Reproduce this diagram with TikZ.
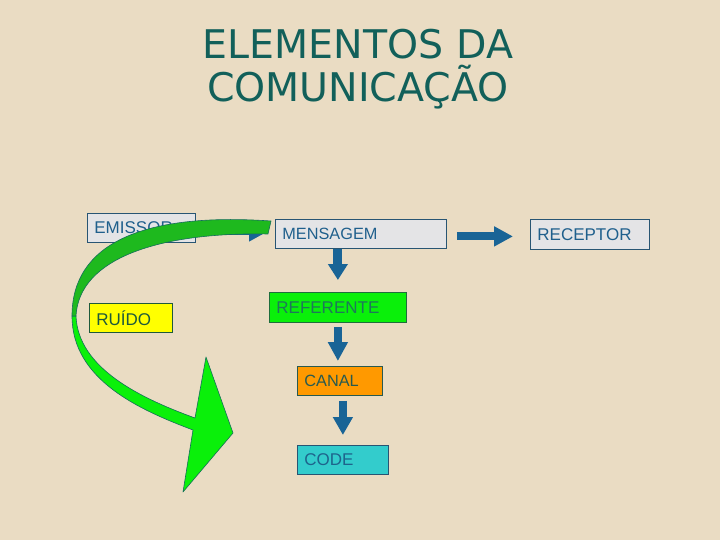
\documentclass[tikz,border=0pt]{standalone}
\usepackage{fontspec}
\setmainfont{Liberation Sans}
\newfontfamily\titlefont{DejaVu Sans}
\usetikzlibrary{arrows.meta}
\definecolor{bg}{RGB}{234,220,195}
\definecolor{titlecol}{RGB}{18,96,90}
\definecolor{ablue}{RGB}{25,100,150}
\definecolor{grayfill}{RGB}{228,228,230}
\definecolor{bluetext}{RGB}{31,95,140}
\definecolor{blueborder}{RGB}{40,85,115}
\definecolor{reffill}{RGB}{10,240,10}
\definecolor{reftext}{RGB}{30,120,90}
\definecolor{refborder}{RGB}{30,110,60}
\definecolor{canalfill}{RGB}{255,153,0}
\definecolor{canaltext}{RGB}{40,90,80}
\definecolor{codefill}{RGB}{51,204,204}
\definecolor{codetext}{RGB}{30,100,140}
\definecolor{ruidofill}{RGB}{255,255,0}
\definecolor{ruidotext}{RGB}{30,90,60}
\definecolor{gdark}{RGB}{30,185,30}
\definecolor{gbright}{RGB}{10,240,10}
\definecolor{gedge}{RGB}{20,110,90}
\begin{document}
\begin{tikzpicture}[x=1pt,y=-1pt,
  titletext/.style={font=\titlefont\fontsize{39.5}{45}\selectfont, text=titlecol, inner sep=0pt},
  box/.style={draw, line width=0.8pt, rectangle, anchor=north west, inner xsep=7pt, inner ysep=0pt, align=left, font=\fontsize{17}{20}\selectfont},
  barrow/.style={draw=ablue, line width=8pt, -{Triangle[length=19pt,width=19pt]}},
  garrow/.style={draw=gedge, line width=0.6pt, line join=round}
]
\fill[bg] (0,0) rectangle (720,540);
\useasboundingbox (0,0) rectangle (720,540);

\node[titletext, anchor=base] (t1) at (358,59) {ELEMENTOS DA};
\node[titletext, anchor=base] (t2) at (358,102) {COMUNICAÇÃO};

\node[box, fill=grayfill, draw=blueborder, text=bluetext, text width=94pt, minimum height=29pt] (em) at (87,213) {EMISSOR};
\node[box, fill=grayfill, draw=blueborder, text=bluetext, text width=157pt, minimum height=29pt, font=\fontsize{16.3}{20}\selectfont] (mens) at (275,219) {MENSAGEM};
\node[box, fill=grayfill, draw=blueborder, text=bluetext, text width=105pt, minimum height=30pt] (rec) at (530,219) {RECEPTOR};
\node[box, fill=reffill, draw=refborder, text=reftext, text width=123pt, minimum height=30pt] (ref) at (269,292) {REFERENTE};
\node[box, fill=canalfill, draw=canaltext, text=canaltext, text width=71pt, minimum height=29pt, font=\fontsize{16.3}{20}\selectfont] (canal) at (297,366) {CANAL};
\node[box, fill=codefill, draw=blueborder, text=codetext, text width=77pt, minimum height=29pt] (code) at (297,445) {CODE};
\node[box, fill=ruidofill, draw=ruidotext, text=ruidotext, text width=69pt, minimum height=29pt] (ruido) at (89,303) {RUÍDO};

% blue arrows
\draw[barrow, shorten <=17pt, shorten >=7pt] ([yshift=-3.5pt]em.east) -- ([yshift=-3.5pt]em.east -| mens.west);
\draw[barrow, shorten <=10pt, shorten >=17pt] ([yshift=-2.5pt]mens.east) -- ([yshift=-2.5pt]mens.east -| rec.west);
\draw[barrow, line width=9pt, -{Triangle[length=16pt,width=19pt]}, shorten >=12pt] (ref.north |- mens.south) -- (ref.north);
\draw[barrow, line width=7.5pt, shorten <=4pt, shorten >=5pt] (ref.south) -- (ref.south |- canal.north);
\draw[barrow, line width=7.5pt, -{Triangle[length=18pt,width=19pt]}, shorten <=5pt, shorten >=10pt] (code.north |- canal.south) -- (code.north);

% green curved arrow
\filldraw[garrow, fill=gbright] (72,316) .. controls (72,380) and (140,410) .. (193,430) -- (183,492) -- (233,433) -- (206,357) -- (195,418) .. controls (140,398) and (78,368) .. (76,316) -- cycle;
\filldraw[garrow, fill=gdark] (271,221) .. controls (140,212) and (72,245) .. (72,316) -- (76,316) .. controls (79,258) and (160,232) .. (268,234) -- cycle;
\end{tikzpicture}
\end{document}
